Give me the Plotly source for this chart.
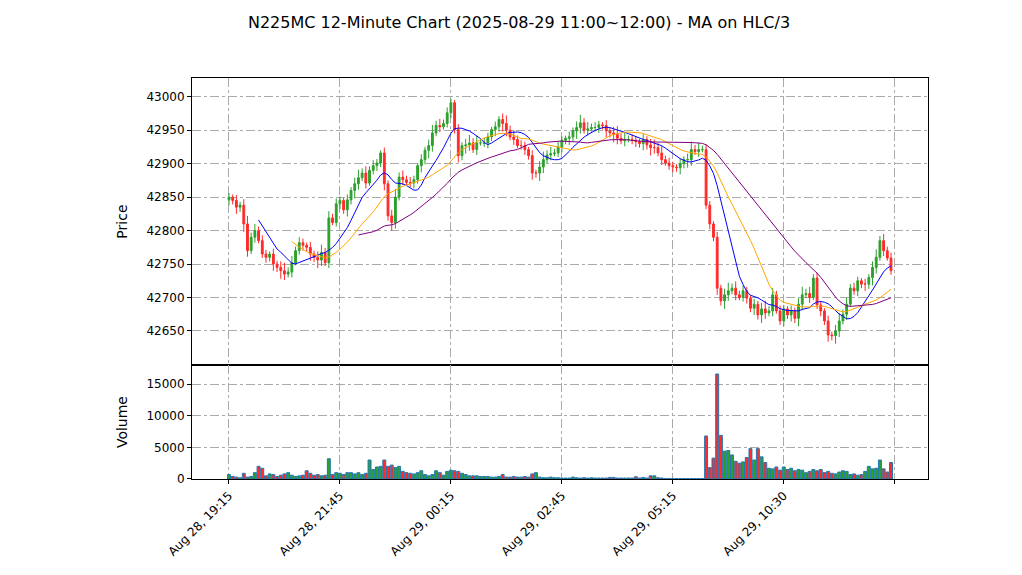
import plotly.graph_objects as go
import numpy as np

tick_labels = ["Aug 28, 19:15", "Aug 28, 21:45", "Aug 29, 00:15", "Aug 29, 02:45",
               "Aug 29, 05:15", "Aug 29, 10:30", ""]
tick_bars = [0, 30, 60, 90, 120, 150, 180]

close = [
    42850, 42845, 42835, 42838, 42810, 42770, 42790, 42800, 42785, 42765,
    42760, 42765, 42750, 42745, 42740, 42735, 42738, 42752, 42770, 42782,
    42778, 42775, 42765, 42760, 42756, 42767, 42752, 42819, 42812, 42840,
    42845, 42831, 42846, 42860, 42870, 42879, 42886, 42871, 42890, 42897,
    42901, 42916, 42870, 42822, 42812, 42850, 42880, 42876, 42872, 42871,
    42876, 42897, 42906, 42920, 42927, 42946, 42957, 42955, 42960, 42976,
    42991, 42951, 42912, 42927, 42928, 42931, 42921, 42931, 42931, 42931,
    42940, 42951, 42955, 42966, 42960, 42950, 42940, 42936, 42927, 42927,
    42921, 42912, 42886, 42886, 42895, 42906, 42913, 42915, 42916, 42925,
    42935, 42938, 42940, 42949, 42954, 42961, 42950, 42952, 42954, 42954,
    42958, 42957, 42949, 42946, 42944, 42938, 42934, 42936, 42936, 42935,
    42933, 42930, 42936, 42928, 42924, 42924, 42916, 42906, 42901, 42897,
    42895, 42894, 42900, 42906, 42906, 42921, 42918, 42921, 42921, 42838,
    42810, 42790, 42714, 42695, 42704, 42710, 42714, 42704, 42700, 42710,
    42699, 42684, 42690, 42674, 42683, 42677, 42680, 42704, 42680, 42665,
    42683, 42674, 42680, 42669, 42690, 42704, 42706, 42700, 42729, 42689,
    42680, 42665, 42644, 42643, 42650, 42665, 42675, 42690, 42714, 42710,
    42725, 42720, 42720, 42730, 42745, 42760, 42785, 42770, 42759, 42740,
]
first_open = 42846
wick = [6, 4, 8, 5, 9, 12, 7, 10, 6, 8] * 18

volume = [
    700, 400, 300, 200, 900, 300, 400, 1000, 2000, 1700,
    500, 800, 700, 400, 600, 800, 1000, 600, 400, 500,
    600, 1300, 900, 600, 700, 500, 600, 3200, 700, 1000,
    900, 700, 1000, 1000, 800, 1000, 700, 900, 3000, 1500,
    1900, 2000, 3000, 2000, 2200, 1800, 2000, 1200, 1000, 900,
    800, 1000, 1300, 700, 500, 700, 1300, 1000, 600, 1200,
    1400, 1300, 1200, 900, 700, 500, 500, 500, 400, 400,
    400, 300, 300, 400, 700, 300, 300, 400, 300, 300,
    400, 300, 800, 1000, 300, 200, 200, 300, 200, 200,
    150, 150, 150, 300, 200, 150, 200, 150, 200, 150,
    150, 150, 150, 250, 250, 150, 150, 150, 150, 150,
    350, 150, 250, 150, 500, 500, 200, 150, 60, 60,
    60, 60, 60, 60, 60, 60, 60, 60, 60, 6800,
    1800, 3300, 16600, 6900, 4400, 4500, 3800, 2800, 2500, 2700,
    3400, 4800, 3000, 4800, 3500, 2600, 1700, 1600, 1900, 1400,
    1900, 1500, 1700, 1300, 1500, 1400, 1000, 1200, 1500, 1300,
    1500, 1000, 1200, 900, 800, 1100, 1300, 1200, 700, 800,
    600, 700, 1200, 2000, 1600, 1700, 3000, 1600, 1100, 2600,
]

n = len(close)
x = np.arange(n)
c = np.array(close, float)
o = np.concatenate([[first_open], c[:-1]])
h = np.maximum(o, c) + np.array(wick)
l = np.minimum(o, c) - np.array(wick)[::-1]
tp = (h + l + c) / 3

def ma(arr, w):
    out = np.full(len(arr), np.nan)
    for i in range(w - 1, len(arr)):
        out[i] = arr[i - w + 1:i + 1].mean()
    return out

up_col, dn_col = "#2ca02c", "#ff2a2a"
vcol = [up_col if c[i] >= o[i] else dn_col for i in range(n)]

fig = go.Figure()
fig.add_trace(go.Candlestick(x=x, open=o, high=h, low=l, close=c,
    increasing=dict(line=dict(color=up_col, width=1), fillcolor=up_col),
    decreasing=dict(line=dict(color=dn_col, width=1), fillcolor=dn_col),
    whiskerwidth=0, showlegend=False, xaxis="x", yaxis="y"))
for w, col in [(9, "blue"), (18, "orange"), (36, "purple")]:
    fig.add_trace(go.Scatter(x=x, y=ma(tp, w), mode="lines", line=dict(color=col, width=1),
                             showlegend=False, xaxis="x", yaxis="y"))
fig.add_trace(go.Bar(x=x, y=volume, marker=dict(color=vcol, line=dict(color="#1f77b4", width=1)),
                     width=0.8, showlegend=False, xaxis="x2", yaxis="y2"))

grid = dict(showgrid=True, gridcolor="#aaaaaa", griddash="dashdot", gridwidth=1,
            showline=True, linecolor="black", linewidth=1, mirror=True,
            ticks="outside", ticklen=4, tickcolor="black", zeroline=False, automargin=False)
font = dict(family="DejaVu Sans", size=12, color="black")
fig.update_layout(
    width=1022, height=575, paper_bgcolor="white", plot_bgcolor="white", font=font,
    margin=dict(l=184, r=102, t=70, b=104, autoexpand=False),
    title=dict(text="N225MC 12-Minute Chart (2025-08-29 11:00~12:00) - MA on HLC/3",
               x=0.5, xanchor="center", y=0.985, yanchor="top", font=dict(size=16)),
    xaxis=dict(domain=[0, 1], range=[-10, 189], anchor="y", tickvals=tick_bars,
               showticklabels=False, rangeslider=dict(visible=False), **grid),
    xaxis2=dict(domain=[0, 1], range=[-10, 189], anchor="y2", matches="x", tickvals=tick_bars,
                ticktext=tick_labels, tickangle=-45, **grid),
    yaxis=dict(domain=[0.284, 1], range=[42599, 43028], title=dict(text="Price"),
               tickformat="d",
               tickvals=[42650, 42700, 42750, 42800, 42850, 42900, 42950, 43000], **grid),
    yaxis2=dict(domain=[0, 0.284], range=[0, 18000], title=dict(text="Volume"),
                tickformat="d", tickvals=[0, 5000, 10000, 15000], **grid),
    bargap=0.2,
)
fig.write_html("out.html")
